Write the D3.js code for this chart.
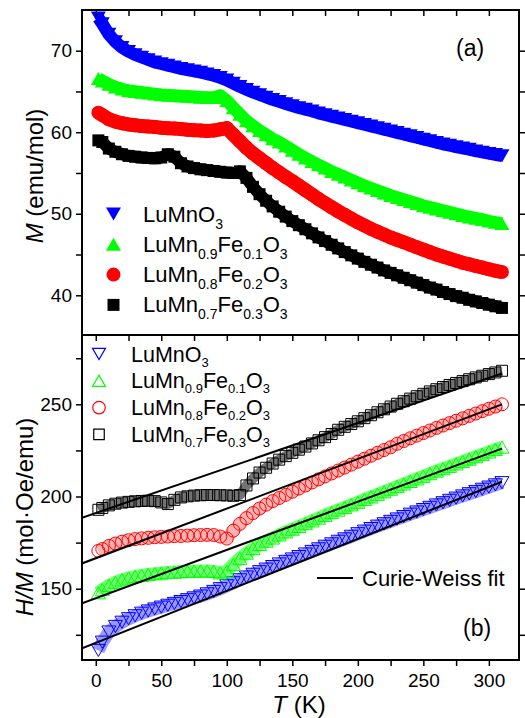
<!DOCTYPE html>
<html><head><meta charset="utf-8">
<script src="https://cdn.jsdelivr.net/npm/d3@7"></script>
<style>body{margin:0;background:#fff}svg text{font-family:"Liberation Sans",Arial,sans-serif;fill:#000}</style>
</head><body><svg id="c" width="525" height="718"></svg>
<script>
// ---------- data ----------
const temps = [2,5,10,15,20,25,30,35,40,45,50,55,60,65,70,75,80,85,90,95,100,105,110,115,120,125,130,135,140,145,150,155,160,165,170,175,180,185,190,195,200,205,210,215,220,225,230,235,240,245,250,255,260,265,270,275,280,285,290,295,300,305,310];

// panel (a): M (emu/mol)
const mLuMnO3 = [74.0,73.3,72.0,71.1,70.4,69.9,69.5,69.2,68.9,68.6,68.4,68.2,68.0,67.8,67.65,67.5,67.35,67.15,66.95,66.7,66.4,66.0,65.6,65.25,64.9,64.6,64.3,64.0,63.75,63.5,63.25,63.0,62.8,62.6,62.35,62.15,61.95,61.75,61.55,61.35,61.15,60.95,60.75,60.55,60.35,60.15,59.95,59.75,59.55,59.35,59.15,58.95,58.75,58.55,58.4,58.2,58.05,57.9,57.7,57.55,57.4,57.25,57.1];
const mFe01 = [66.6,66.3,65.9,65.55,65.3,65.1,65.0,64.9,64.8,64.7,64.6,64.55,64.5,64.45,64.4,64.35,64.3,64.25,64.25,64.5,63.9,63.0,62.2,61.4,60.8,60.2,59.7,59.2,58.8,58.3,57.8,57.3,56.85,56.4,56.0,55.6,55.2,54.85,54.5,54.15,53.8,53.45,53.15,52.85,52.55,52.25,52.0,51.75,51.5,51.25,51.0,50.8,50.6,50.4,50.2,50.0,49.8,49.6,49.45,49.3,49.1,48.95,48.8];
const mFe02 = [62.4,62.1,61.6,61.3,61.1,60.95,60.85,60.75,60.7,60.65,60.55,60.5,60.45,60.4,60.3,60.25,60.2,60.15,60.2,60.35,60.5,59.7,58.9,58.1,57.4,56.8,56.2,55.6,55.05,54.5,54.0,53.45,52.9,52.35,51.8,51.3,50.8,50.3,49.85,49.4,48.95,48.55,48.15,47.8,47.45,47.1,46.8,46.5,46.2,45.9,45.6,45.3,45.0,44.75,44.5,44.25,44.0,43.8,43.6,43.4,43.2,43.0,42.85];
const mFe03 = [59.0,58.8,58.0,57.6,57.3,57.1,57.0,56.9,56.85,56.8,56.9,57.3,57.0,56.2,55.8,55.6,55.45,55.35,55.25,55.15,55.05,55.0,55.2,54.4,53.3,52.4,51.6,50.9,50.25,49.65,49.1,48.6,48.1,47.6,47.1,46.65,46.2,45.75,45.3,44.9,44.5,44.1,43.75,43.4,43.05,42.75,42.45,42.15,41.85,41.55,41.25,40.95,40.7,40.4,40.15,39.9,39.7,39.45,39.25,39.05,38.85,38.65,38.45];

// panel (b): H/M (mol·Oe/emu)
const hmLuMnO3 = [116.5,121.0,126.5,129.5,131.8,133.7,135.3,136.7,137.9,139.0,140.0,141.0,142.0,143.0,144.0,145.0,146.0,147.2,148.5,150.0,151.6,153.2,154.8,156.3,157.8,159.2,160.6,162.0,163.4,164.8,166.1,167.4,168.8,170.2,171.6,173.0,174.3,175.7,177.0,178.4,179.8,181.2,182.6,183.9,185.2,186.5,187.8,189.1,190.4,191.6,192.9,194.1,195.4,196.6,197.9,199.1,200.3,201.5,202.7,203.9,205.1,206.3,207.5];
const hmFe01 = [147.8,149.5,151.8,153.5,154.8,155.8,156.6,157.2,157.7,158.1,158.5,158.8,159.0,159.2,159.4,159.5,159.6,159.6,159.4,158.6,159.5,163.2,166.5,169.3,171.8,174.0,175.8,177.5,179.2,180.8,182.3,183.8,185.3,186.8,188.3,189.8,191.3,192.7,194.1,195.5,196.9,198.4,199.8,201.2,202.6,204.0,205.4,206.8,208.2,209.6,211.0,212.4,213.8,215.1,216.4,217.7,219.0,220.3,221.6,222.9,224.2,225.5,226.8];
const hmFe02 = [170.5,171.5,173.2,174.5,175.5,176.3,176.9,177.3,177.6,177.9,178.1,178.3,178.5,178.6,178.8,179.0,179.1,179.2,179.1,178.3,177.2,181.5,185.2,188.3,191.0,193.5,195.6,197.5,199.2,200.9,202.6,204.3,206.0,207.6,209.3,210.9,212.5,214.1,215.7,217.3,218.9,220.5,222.1,223.7,225.2,226.7,228.6,230.1,231.6,233.0,234.4,235.8,237.2,238.5,239.8,241.1,242.4,243.7,245.0,246.3,247.6,248.8,250.0];
const hmFe03 = [192.8,193.8,195.2,196.1,196.7,197.1,197.4,197.6,197.7,197.5,196.8,195.9,198.2,199.5,200.1,200.5,200.7,200.8,200.8,200.7,200.6,200.4,200.8,206.0,209.8,213.0,215.6,217.9,220.0,221.9,223.7,225.4,227.1,228.8,230.5,232.2,233.9,236.2,237.8,239.3,240.8,242.5,244.1,245.7,247.3,248.8,250.3,251.7,253.1,254.4,255.7,257.0,258.2,259.4,260.5,261.6,262.6,263.6,264.6,265.5,266.4,267.3,268.2];

// Curie-Weiss fit lines (end points)
const fitTemps = [-10.5, 310];
const fitLuMnO3 = [117.7, 208.0];
const fitFe01 = [142.1, 226.0];
const fitFe02 = [163.7, 250.0];
const fitFe03 = [188.5, 266.7];

const colors = ["#0000ff", "#00ff00", "#ff0000", "#000000"];
const symbols = ["tdown", "tup", "circle", "square"];
const labelParts = [
  [["LuMnO",0],["3",1]],
  [["LuMn",0],["0.9",1],["Fe",0],["0.1",1],["O",0],["3",1]],
  [["LuMn",0],["0.8",1],["Fe",0],["0.2",1],["O",0],["3",1]],
  [["LuMn",0],["0.7",1],["Fe",0],["0.3",1],["O",0],["3",1]]
];
const xTickVals = [0,25,50,75,100,125,150,175,200,225,250,275,300];
const xTickLabels = [0,50,100,150,200,250,300];
const yTopTicks = [40,45,50,55,60,65,70];
const yTopLabels = [40,50,60,70];
const yBotTicks = [125,150,175,200,225,250,275];
const yBotLabels = [150,200,250];

// ---------- layout ----------
const svg = d3.select("#c");
const L = 82, R = 519, T1 = 10, B1 = 335, T2 = 335, B2 = 660;
const x = d3.scaleLinear().domain([-10.5, 323]).range([L, R]);
const y1 = d3.scaleLinear().domain([35.13, 74.99]).range([B1, T1]);
const y2 = d3.scaleLinear().domain([111.33, 287.6]).range([B2, T2]);

function sym(type, s) {
  const h = s * 0.87, w = s;
  if (type === "tdown") return `M${-w/2},${-h/2}L${w/2},${-h/2}L0,${h/2}Z`;
  if (type === "tup") return `M${-w/2},${h/2}L${w/2},${h/2}L0,${-h/2}Z`;
  if (type === "square") return `M${-s/2},${-s/2}h${s}v${s}h${-s}Z`;
  const r = s/2; return `M${-r},0A${r},${r} 0 1,0 ${r},0A${r},${r} 0 1,0 ${-r},0Z`;
}

const defs = svg.append("defs");
defs.append("clipPath").attr("id","cp1").append("rect").attr("x",L).attr("y",T1).attr("width",R-L).attr("height",B1-T1);
defs.append("clipPath").attr("id","cp2").append("rect").attr("x",L).attr("y",T2).attr("width",R-L).attr("height",B2-T2);

// ---------- panel (a) ----------
const topSeries = [mLuMnO3, mFe01, mFe02, mFe03];
const topSizes = [15, 15, 14, 12];
const g1 = svg.append("g").attr("clip-path","url(#cp1)");
const line1 = d3.line().x(d => x(d[0])).y(d => y1(d[1]));
topSeries.forEach((vals, i) => {
  const pts = temps.map((t, j) => [t, vals[j]]);
  g1.append("path").attr("d", line1(pts)).attr("fill","none")
    .attr("stroke", colors[i]).attr("stroke-width", [12.5,12.5,14,12][i])
    .attr("stroke-linejoin","round");
  g1.append("g").selectAll("path").data(pts).join("path")
    .attr("d", sym(symbols[i], topSizes[i]))
    .attr("transform", d => `translate(${x(d[0])},${y1(d[1])})`)
    .attr("fill", colors[i]).attr("stroke", "none");
});

// ---------- panel (b) ----------
const botSeries = [hmLuMnO3, hmFe01, hmFe02, hmFe03];
const botSizes = [14, 14, 13, 11];
const bandOpacity = [0.4, 0.55, 0.3, 0.55];
const fits = [fitLuMnO3, fitFe01, fitFe02, fitFe03];
const g2 = svg.append("g").attr("clip-path","url(#cp2)");
const line2 = d3.line().x(d => x(d[0])).y(d => y2(d[1]));
botSeries.forEach((vals, i) => {
  const pts = temps.map((t, j) => [t, vals[j]]);
  g2.append("path").attr("d", line2(pts)).attr("fill","none")
    .attr("stroke", colors[i]).attr("stroke-opacity", bandOpacity[i])
    .attr("stroke-width", botSizes[i] - 1).attr("stroke-linejoin","round");
  g2.append("g").selectAll("path").data(pts).join("path")
    .attr("d", sym(symbols[i], botSizes[i]))
    .attr("transform", d => `translate(${x(d[0])},${y2(d[1])})`)
    .attr("fill", "none").attr("stroke", colors[i]).attr("stroke-width", 1);
});
fits.forEach(f => {
  g2.append("path").attr("d", line2(fitTemps.map((t, j) => [t, f[j]])))
    .attr("fill","none").attr("stroke","#000").attr("stroke-width",2);
});

// ---------- axes ----------
function styleAxis(g, fs) {
  g.select(".domain").remove();
  g.selectAll(".tick line").attr("stroke","#000").attr("stroke-width",1.5);
  g.selectAll(".tick text").attr("font-family","Liberation Sans, Arial, sans-serif").attr("font-size",fs).attr("fill","#000");
}
// top panel
styleAxis(svg.append("g").attr("transform",`translate(${L},0)`)
  .call(d3.axisLeft(y1).tickValues(yTopTicks).tickSize(6).tickPadding(4)
    .tickFormat(d => yTopLabels.includes(d) ? d : "")), 19);
styleAxis(svg.append("g").attr("transform",`translate(${R},0)`)
  .call(d3.axisLeft(y1).tickValues(yTopTicks).tickSize(-6).tickFormat("")), 19);
styleAxis(svg.append("g").attr("transform",`translate(0,${T1})`)
  .call(d3.axisBottom(x).tickValues(xTickVals).tickSize(6).tickFormat("")), 19);
// bottom panel
styleAxis(svg.append("g").attr("transform",`translate(${L},0)`)
  .call(d3.axisLeft(y2).tickValues(yBotTicks).tickSize(6).tickPadding(4)
    .tickFormat(d => yBotLabels.includes(d) ? d : "")), 19);
styleAxis(svg.append("g").attr("transform",`translate(${R},0)`)
  .call(d3.axisLeft(y2).tickValues(yBotTicks).tickSize(-6).tickFormat("")), 19);
styleAxis(svg.append("g").attr("transform",`translate(0,${T2})`)
  .call(d3.axisBottom(x).tickValues(xTickVals).tickSize(6).tickFormat("")), 19);
styleAxis(svg.append("g").attr("transform",`translate(0,${B2})`)
  .call(d3.axisBottom(x).tickValues(xTickVals).tickSize(6).tickPadding(8)
    .tickFormat(d => xTickLabels.includes(d) ? d : "")), 19);

// frames
svg.append("rect").attr("x",L).attr("y",T1).attr("width",R-L).attr("height",B1-T1)
  .attr("fill","none").attr("stroke","#000").attr("stroke-width",2);
svg.append("rect").attr("x",L).attr("y",T2).attr("width",R-L).attr("height",B2-T2)
  .attr("fill","none").attr("stroke","#000").attr("stroke-width",2);

// ---------- legends ----------
function formula(g, parts, fs, sfs, sh) {
  const t = g.append("text").attr("font-size", fs);
  let down = false;
  parts.forEach(([s, sub]) => {
    const ts = t.append("tspan").text(s);
    if (sub) { ts.attr("font-size", sfs).attr("dy", down ? 0 : sh); down = true; }
    else { if (down) ts.attr("dy", -sh); down = false; }
  });
  return t;
}
labelParts.forEach((parts, i) => {
  const cy = 214 + i * 30.3;
  svg.append("path").attr("d", sym(symbols[i], [15,15,14,12][i]))
    .attr("transform", `translate(113.5,${cy})`).attr("fill", colors[i]);
  formula(svg.append("g").attr("transform", `translate(143,${cy + 7.5})`), parts, 22, 14, 7);
});
labelParts.forEach((parts, i) => {
  const cy = 354 + i * 26.8;
  svg.append("path").attr("d", sym(symbols[i], [13,13,12.5,10.5][i]))
    .attr("transform", `translate(99,${cy})`).attr("fill", "none")
    .attr("stroke", colors[i]).attr("stroke-width", 1.2);
  formula(svg.append("g").attr("transform", `translate(131,${cy + 7.5})`), parts, 21.5, 13, 5);
});
svg.append("line").attr("x1",317).attr("x2",353).attr("y1",578).attr("y2",578)
  .attr("stroke","#000").attr("stroke-width",2);
svg.append("text").attr("x",362).attr("y",586).attr("font-size",22).text("Curie-Weiss fit");

svg.append("text").attr("x",456).attr("y",56).attr("font-size",23).text("(a)");
svg.append("text").attr("x",463).attr("y",636).attr("font-size",23).text("(b)");

// ---------- axis titles ----------
const yt1 = svg.append("text").attr("transform","translate(43,176) rotate(-90)")
  .attr("text-anchor","middle").attr("font-size",24);
yt1.append("tspan").attr("font-style","italic").text("M");
yt1.append("tspan").text(" (emu/mol)");
const yt2 = svg.append("text").attr("transform","translate(33,517) rotate(-90)")
  .attr("text-anchor","middle").attr("font-size",24);
yt2.append("tspan").attr("font-style","italic").text("H/M");
yt2.append("tspan").text(" (mol\u00B7Oe/emu)");
const xt = svg.append("text").attr("x",299).attr("y",713)
  .attr("text-anchor","middle").attr("font-size",24);
xt.append("tspan").attr("font-style","italic").text("T");
xt.append("tspan").text(" (K)");
</script></body></html>
